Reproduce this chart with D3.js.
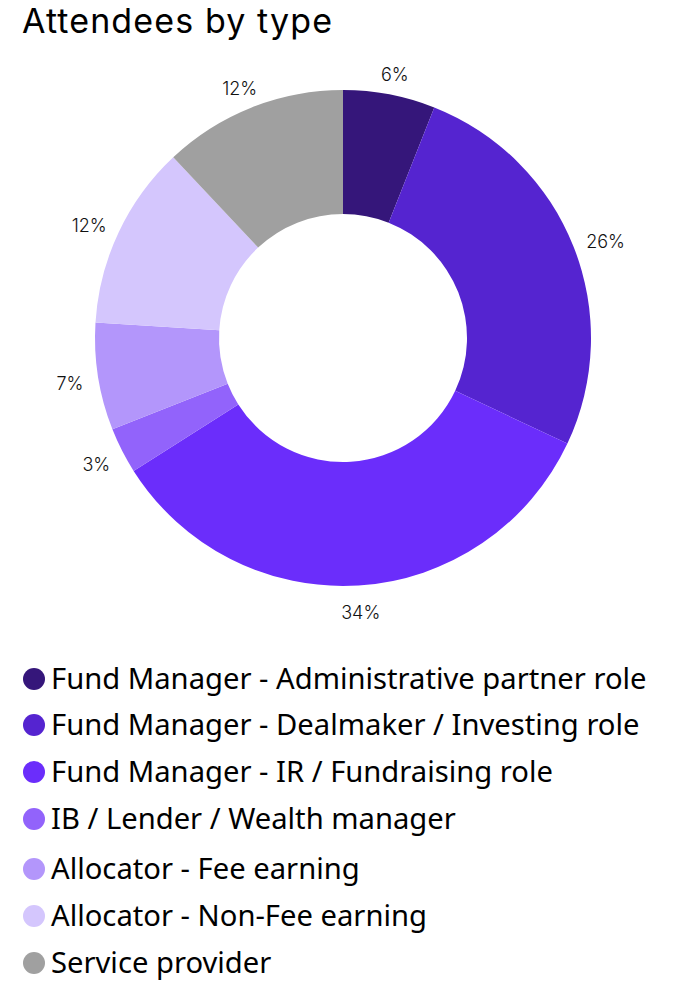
<!DOCTYPE html>
<html><head><meta charset="utf-8">
<script src="https://cdn.jsdelivr.net/npm/d3@7"></script>
<style>body{margin:0;background:#fff}svg{display:block}</style>
</head><body>
<svg id="c" width="682" height="991"></svg>
<script>
const categories = [
  "Fund Manager - Administrative partner role",
  "Fund Manager - Dealmaker / Investing role",
  "Fund Manager - IR / Fundraising role",
  "IB / Lender / Wealth manager",
  "Allocator - Fee earning",
  "Allocator - Non-Fee earning",
  "Service provider"
];
const values = [6, 26, 34, 3, 7, 12, 12];
const colors = ["#35167a", "#5524d0", "#6b2dfb", "#9263fb", "#b396fb", "#d4c6fd", "#a0a0a0"];
const title = "Attendees by type";

const svg = d3.select("#c");
const cx = 343, cy = 338, R = 248, r = 124;

const t = svg.append("text").attr("x", 22).attr("y", 33)
  .style("font-family", "Inter, Lato, sans-serif").style("font-size", "34px").style("font-weight", 400)
  .attr("fill", "#000").text(title);
const tw = t.node().getComputedTextLength();
t.style("letter-spacing", ((310 - tw) / (title.length - 1)) + "px");

const pie = d3.pie().sort(null).value(d => d)(values);
const arc = d3.arc().innerRadius(r).outerRadius(R);
const LR = 263;
const g = svg.append("g").attr("transform", `translate(${cx},${cy})`);
g.selectAll("path").data(pie).join("path").attr("d", arc).attr("fill", (d, i) => colors[i]);
const labels = g.selectAll("text").data(pie).join("text")
  .attr("text-anchor", "middle").attr("dy", "0.35em")
  .style("font-family", "Inter, Lato, sans-serif").style("font-size", "18px").style("font-weight", 300).attr("fill", "#111")
  .text(d => d.data + "%");
labels.attr("transform", function(d) {
  const a = (d.startAngle + d.endAngle) / 2;
  const w = this.getComputedTextLength(), h = 18;
  const x = Math.sin(a) * LR + Math.sin(a) * w / 2;
  const y = -Math.cos(a) * LR - Math.cos(a) * h / 2 + 3.5;
  return `translate(${x},${y})`;
});

const rows = [679, 725, 772, 819, 869, 916, 963];
const lg = svg.append("g");
categories.forEach((c, i) => {
  lg.append("circle").attr("cx", 34).attr("cy", rows[i]).attr("r", 11).attr("fill", colors[i]);
  lg.append("text").attr("x", 51).attr("y", rows[i]).attr("dy", "0.35em")
    .style("font-family", "'Noto Sans', 'Open Sans', sans-serif").style("font-size", "28px").attr("fill", "#000")
    .text(c);
});
const lw = lg.select("text").node().getComputedTextLength();
lg.selectAll("text").style("font-size", (28 * 596 / lw) + "px");
</script>
</body></html>
